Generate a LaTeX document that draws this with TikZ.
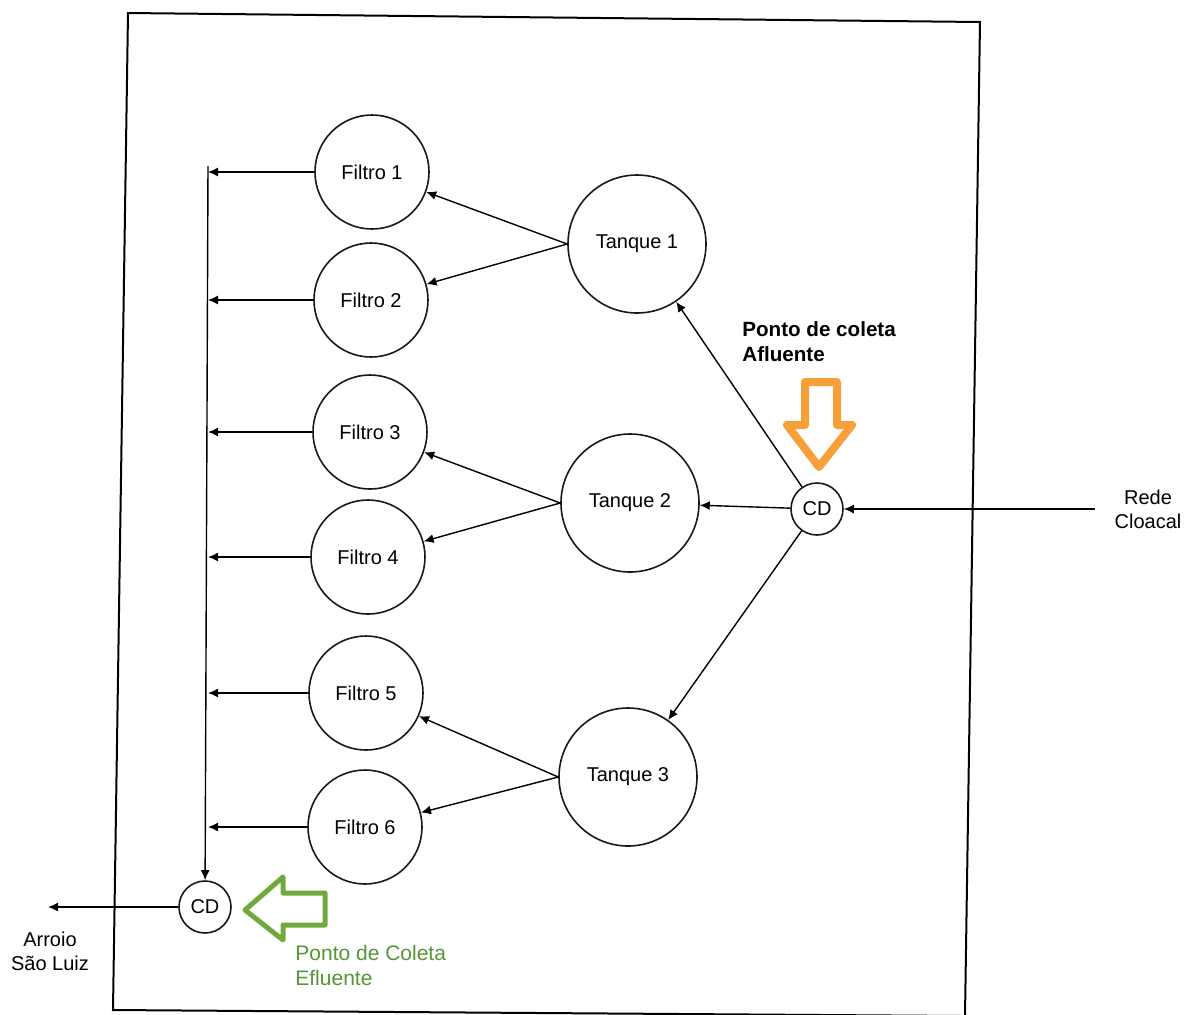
\documentclass[tikz,border=0pt]{standalone}
\usepackage{fontspec}
\setmainfont{Liberation Sans}
\usetikzlibrary{positioning,arrows.meta}
\definecolor{myorange}{RGB}{247,160,58}
\definecolor{mygreen}{RGB}{112,170,62}
\definecolor{mytext}{RGB}{84,150,52}

\begin{document}
\begin{tikzpicture}[x=0.5pt,y=-0.5pt,inner sep=0pt,font=\fontsize{10}{12}\selectfont]
\tikzstyle{main}=[circle, minimum size = 57pt, line width=0.8pt, draw =black!90]
\tikzstyle{big}=[circle, minimum size = 69pt, line width=0.8pt, draw =black!90]
\tikzstyle{small}=[circle, minimum size = 26pt, line width=0.8pt, draw =black!90]
\tikzstyle{connect}=[-{Latex[length=5pt,width=4.5pt]}, line width=0.7pt]
\tikzstyle{from}=[{Latex[length=5pt,width=4.5pt]}-, line width=0.7pt]
\tikzstyle{hollow}=[line width=4pt, line join=round]
\useasboundingbox (0,0) rectangle (1184,1014);
% frame
\draw[line width=1pt] (128,13) -- (980,22) -- (965,1016) -- (113,1010) -- cycle;
% tanks and filters
\node[big] (t1) at (637,244) {Tanque 1};
\node[big] (t2) at (630,503) {Tanque 2};
\node[big] (t3) at (628,777) {Tanque 3};
\node[main] (f1) at (372,172) {Filtro 1};
\node[main] (f2) at (371,300) {Filtro 2};
\node[main] (f3) at (370,432) {Filtro 3};
\node[main] (f4) at (368,557) {Filtro 4};
\node[main] (f5) at (366,693) {Filtro 5};
\node[main] (f6) at (365,827) {Filtro 6};
\node[small] (cdin) at (817,509) {CD};
\node[small] (cdout) at (205,907) {CD};
\coordinate (bus) at (208,166);
\coordinate (rede) at (1095,509);
\coordinate (arroio) at (48,907);
\node[align=center] (redetxt) at (1148,509) {Rede\\Cloacal};
\node[align=center] (arroiotxt) at (50,951) {Arroio\\São Luiz};
% flows
\path (cdin) edge[from] (rede);
\path (t1) edge[from] (cdin);
\path (t2) edge[from] (cdin);
\path (t3) edge[from] (cdin);
\path (f1) edge[from] (t1.west);
\path (f2) edge[from] (t1.west);
\path (f3) edge[from] (t2.west);
\path (f4) edge[from] (t2.west);
\path (f5) edge[from] (t3.west);
\path (f6) edge[from] (t3.west);
\foreach \f in {f1,f2,f3,f4,f5,f6}
  \draw[connect] (\f.west) -- (\f.west -| bus);
\draw[connect] (bus) -- (cdout);
\draw[connect] (cdout) -- (arroio);
% sampling points
\draw[hollow,myorange] (805,382) -- (837,382) -- (837,425) -- (852,425) -- (819,467) -- (787,425) -- (805,425) -- cycle;
\node[anchor=west,align=left,font=\fontsize{10.3}{12.5}\selectfont\bfseries] (afl) at (742,342) {Ponto de coleta\\Afluente};
\draw[hollow,mygreen,line width=2.5pt] (245,910) -- (283,877) -- (283,893) -- (325,893) -- (325,925) -- (283,925) -- (283,940) -- cycle;
\node[anchor=west,align=left,text=mytext,font=\fontsize{10.5}{12.5}\selectfont] (efl) at (295,965) {Ponto de Coleta\\Efluente};
\end{tikzpicture}
\end{document}
